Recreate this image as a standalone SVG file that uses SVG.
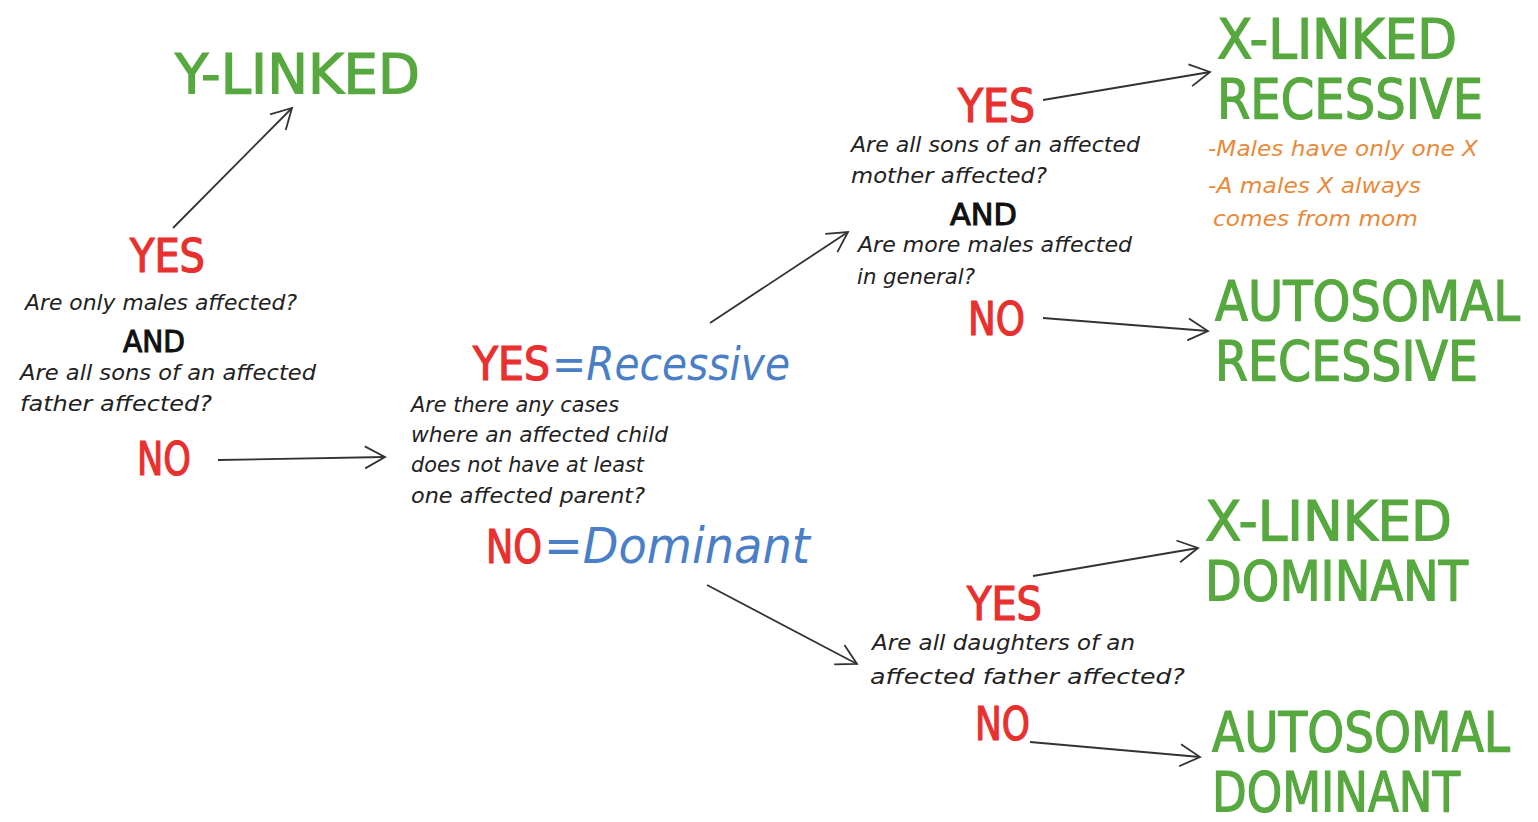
<svg xmlns="http://www.w3.org/2000/svg" width="1538" height="822" viewBox="0 0 1538 822">
<defs>
<marker id="ah" viewBox="0 0 26 26" refX="23" refY="13" markerWidth="26" markerHeight="26" markerUnits="userSpaceOnUse" orient="auto">
<path d="M3,2 L23,13 L3,24" fill="none" stroke="#333" stroke-width="1.8" stroke-linejoin="miter"/>
</marker>
<style>
.g{fill:#56a83f;stroke:#56a83f;stroke-width:1.2;font-family:"DejaVu Sans Condensed","DejaVu Sans",sans-serif;font-size:56px}
.r{fill:#e8302e;stroke:#e8302e;stroke-width:1.2;font-family:"DejaVu Sans Condensed","DejaVu Sans",sans-serif;font-size:46px}
.k{fill:#111;stroke:#111;stroke-width:1;font-family:"DejaVu Sans Condensed","DejaVu Sans",sans-serif;font-size:31px}
.q{fill:#222;font-family:"DejaVu Sans","Liberation Sans",sans-serif;font-size:21px;font-style:italic}
.o{fill:#e88a3a;font-family:"DejaVu Sans","Liberation Sans",sans-serif;font-size:21px;font-style:italic}
.b{fill:#4a7fc8;stroke:none;font-family:"DejaVu Sans","Liberation Sans",sans-serif;font-style:italic}
.c{fill:none;stroke:#333;stroke-width:1.8;marker-end:url(#ah)}
</style>
</defs>
<rect width="1538" height="822" fill="#fff"/>
<g id="connectors">
<path class="c" d="M173,228 L292,108"/>
<path class="c" d="M218,460 L385,457"/>
<path class="c" d="M710,323 L848,232"/>
<path class="c" d="M707,585 L857,664"/>
<path class="c" d="M1043,100 L1210,72"/>
<path class="c" d="M1043,318 L1208,331"/>
<path class="c" d="M1033,576 L1198,548"/>
<path class="c" d="M1030,742 L1200,757"/>
</g>
<g id="y-linked"><text class="g" x="175" y="93" textLength="245" lengthAdjust="spacingAndGlyphs">Y-LINKED</text></g>
<g id="q1">
<text class="r" x="130" y="272" textLength="75" lengthAdjust="spacingAndGlyphs">YES</text>
<text class="q" x="25" y="310" textLength="272" lengthAdjust="spacingAndGlyphs">Are only males affected?</text>
<text class="k" x="123" y="352" textLength="62" lengthAdjust="spacingAndGlyphs">AND</text>
<text class="q" x="20" y="380" textLength="296" lengthAdjust="spacingAndGlyphs">Are all sons of an affected</text>
<text class="q" x="20" y="411" textLength="192" lengthAdjust="spacingAndGlyphs">father affected?</text>
<text class="r" x="137" y="475" textLength="54" lengthAdjust="spacingAndGlyphs">NO</text>
</g>
<g id="q2">
<text class="r" x="473" y="380"><tspan textLength="77" lengthAdjust="spacingAndGlyphs">YES</tspan><tspan class="b" x="552" font-size="47" textLength="238" lengthAdjust="spacingAndGlyphs">=Recessive</tspan></text>
<text class="q" x="411" y="412" textLength="208" lengthAdjust="spacingAndGlyphs">Are there any cases</text>
<text class="q" x="411" y="442" textLength="257" lengthAdjust="spacingAndGlyphs">where an affected child</text>
<text class="q" x="411" y="472" textLength="233" lengthAdjust="spacingAndGlyphs">does not have at least</text>
<text class="q" x="411" y="503" textLength="234" lengthAdjust="spacingAndGlyphs">one affected parent?</text>
<text class="r" x="486" y="563"><tspan textLength="56" lengthAdjust="spacingAndGlyphs">NO</tspan><tspan class="b" x="544" font-size="49" textLength="266" lengthAdjust="spacingAndGlyphs">=Dominant</tspan></text>
</g>
<g id="q3">
<text class="r" x="958" y="122" textLength="77" lengthAdjust="spacingAndGlyphs">YES</text>
<text class="q" x="851" y="152" textLength="289" lengthAdjust="spacingAndGlyphs">Are all sons of an affected</text>
<text class="q" x="851" y="183" textLength="196" lengthAdjust="spacingAndGlyphs">mother affected?</text>
<text class="k" x="950" y="225" textLength="67" lengthAdjust="spacingAndGlyphs">AND</text>
<text class="q" x="858" y="252" textLength="274" lengthAdjust="spacingAndGlyphs">Are more males affected</text>
<text class="q" x="857" y="284" textLength="118" lengthAdjust="spacingAndGlyphs">in general?</text>
<text class="r" x="968" y="335" textLength="57" lengthAdjust="spacingAndGlyphs">NO</text>
</g>
<g id="q4">
<text class="r" x="967" y="620" textLength="75" lengthAdjust="spacingAndGlyphs">YES</text>
<text class="q" x="872" y="650" textLength="263" lengthAdjust="spacingAndGlyphs">Are all daughters of an</text>
<text class="q" x="870" y="684" textLength="315" lengthAdjust="spacingAndGlyphs">affected father affected?</text>
<text class="r" x="975" y="740" textLength="55" lengthAdjust="spacingAndGlyphs">NO</text>
</g>
<g id="x-linked-recessive">
<text class="g" x="1217" y="58" textLength="240" lengthAdjust="spacingAndGlyphs">X-LINKED</text>
<text class="g" x="1217" y="118" textLength="266" lengthAdjust="spacingAndGlyphs">RECESSIVE</text>
<text class="o" x="1208" y="156" textLength="270" lengthAdjust="spacingAndGlyphs">-Males have only one X</text>
<text class="o" x="1208" y="193" textLength="213" lengthAdjust="spacingAndGlyphs">-A males X always</text>
<text class="o" x="1213" y="226" textLength="205" lengthAdjust="spacingAndGlyphs">comes from mom</text>
</g>
<g id="autosomal-recessive">
<text class="g" x="1215" y="320" textLength="305" lengthAdjust="spacingAndGlyphs">AUTOSOMAL</text>
<text class="g" x="1215" y="380" textLength="263" lengthAdjust="spacingAndGlyphs">RECESSIVE</text>
</g>
<g id="x-linked-dominant">
<text class="g" x="1205" y="540" textLength="247" lengthAdjust="spacingAndGlyphs">X-LINKED</text>
<text class="g" x="1205" y="600" textLength="263" lengthAdjust="spacingAndGlyphs">DOMINANT</text>
</g>
<g id="autosomal-dominant">
<text class="g" x="1212" y="751" textLength="298" lengthAdjust="spacingAndGlyphs">AUTOSOMAL</text>
<text class="g" x="1212" y="811" textLength="248" lengthAdjust="spacingAndGlyphs">DOMINANT</text>
</g>
</svg>
